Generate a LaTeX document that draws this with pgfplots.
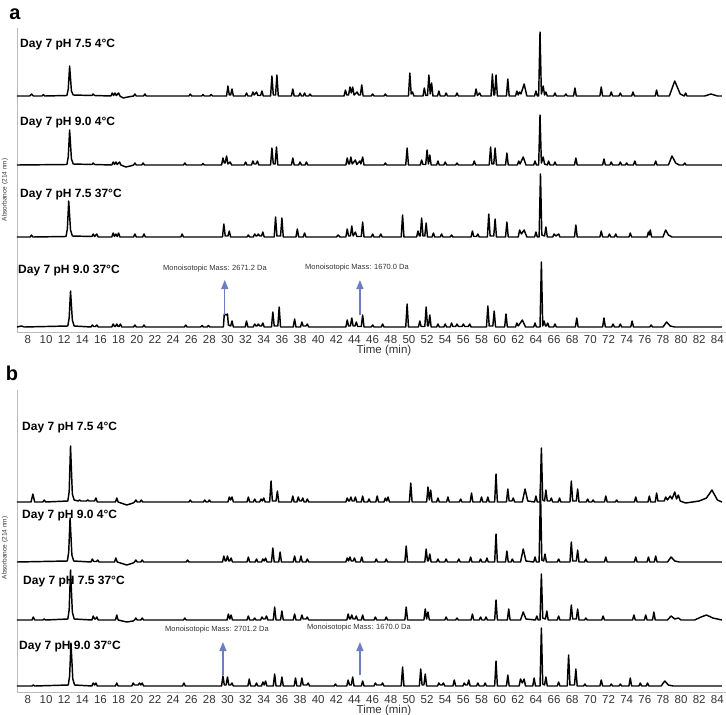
\documentclass[border=0pt]{standalone}
\usepackage{fontspec}
\setmainfont{Liberation Sans}
\usepackage{pgfplots}
\pgfplotsset{compat=1.18}
\usetikzlibrary{arrows.meta}
\definecolor{axgray}{HTML}{BBBBBB}
\definecolor{arrowblue}{HTML}{6E7FC0}
\definecolor{txtgray}{HTML}{333333}
\pgfplotsset{chrom/.style={
  scale only axis, width=709pt, xmin=6.8, xmax=84.95, ymin=0,
  axis x line*=bottom, axis y line*=left,
  axis line style={axgray, line width=0.8pt, -},
  xtick={8,10,...,84}, ytick=\empty, major tick length=0pt,
  tick label style={font=\fontsize{11.5}{11.5}\selectfont, text=txtgray},
  /pgf/number format/assume math mode=true,
  clip=false,
  every axis plot/.append style={black, line width=1.45pt, line join=round, no marks},
}}
\begin{document}
\begin{tikzpicture}
\useasboundingbox (0,0) rectangle (726pt,-715pt);
% ---------------- panel a ----------------
\begin{axis}[chrom, at={(17pt,-332pt)}, anchor=south west, height=304pt, ymax=304]
% Day 7 pH 7.5 4C
\addplot[y filter/.expression={y+236}] coordinates {(6.8,0) (8.2,0) (8.4,2) (8.6,0) (9.55,0) (9.7,1.5) (9.85,0) (12.3,0.5) (12.45,7) (12.6,30) (12.8,5) (13.0,1) (15.05,0.5) (15.2,2) (15.35,0.5) (17.15,0) (17.3,3) (17.45,0.5) (17.6,3) (17.75,0.5) (18.0,3) (18.15,0) (18.5,-2) (19.0,-1) (19.65,0) (19.8,2) (19.95,0) (20.75,0) (20.9,2) (21.05,0) (25.75,0) (25.9,2) (26.05,0) (27.15,0) (27.3,1.5) (27.45,0) (28.05,0) (28.2,1.5) (28.35,0) (29.9,0) (30.05,10) (30.2,1) (30.35,1) (30.5,7) (30.65,0) (31.95,0) (32.1,3) (32.25,0) (32.65,0) (32.8,4) (32.95,1) (33.2,4) (33.35,0.5) (33.65,0.5) (33.8,5) (33.95,0) (34.75,0) (34.9,20) (35.05,1) (35.3,1) (35.45,21) (35.6,0) (37.05,0) (37.2,7) (37.35,0) (37.85,0) (38,3) (38.15,0) (38.35,0) (38.5,3) (38.65,0) (38.95,0) (39.1,2) (39.25,0) (42.85,0) (43.0,6) (43.15,1) (43.35,1) (43.5,9) (43.65,3) (43.8,9) (43.95,1) (44.3,4) (44.45,1) (44.65,1) (44.8,11) (44.95,0) (45.85,0) (46,2) (46.15,0) (47.25,0) (47.4,2) (47.55,0) (49.95,0) (50.1,23) (50.25,2) (50.4,4) (50.55,0) (51.55,0) (51.7,8) (51.85,0.5) (52.05,0.5) (52.2,21) (52.35,2) (52.5,13) (52.65,0) (53.15,0) (53.3,5) (53.45,0) (53.95,0) (54.1,3) (54.25,0) (55.15,0) (55.3,3) (55.45,0) (57.25,0) (57.4,7) (57.55,0.5) (57.8,3) (57.95,0) (59.05,0) (59.2,22) (59.35,1) (59.45,1) (59.6,21) (59.75,0) (60.75,0) (60.9,17) (61.05,0) (61.75,0) (61.9,5) (62.05,1) (62.2,4) (62.35,2) (62.7,12) (63.0,0) (63.85,0) (64.0,5) (64.15,0) (64.3,0) (64.45,64) (64.6,2) (64.8,10) (64.95,1) (65.1,4) (65.25,0) (65.95,0) (66.1,3) (66.25,0) (67.15,0) (67.3,2) (67.45,0) (68.15,0) (68.3,8) (68.45,0) (71.05,0) (71.2,9) (71.35,0) (72.15,0) (72.3,4) (72.45,0) (73.15,0) (73.3,3) (73.45,0) (74.55,0) (74.7,4) (74.85,0) (77.15,0) (77.3,6) (77.45,0) (78.7,0) (79.3,15) (79.9,2) (80.35,0) (80.5,3) (80.65,0) (82.6,0) (83.3,2) (84.0,0) (84.5,0)};
% Day 7 pH 9.0 4C
\addplot[y filter/.expression={y+167}] coordinates {(6.8,0) (12.3,0.5) (12.45,8) (12.6,35) (12.8,6) (13.0,1) (15.05,0.5) (15.2,2) (15.35,0.5) (17.25,0) (17.4,3) (17.55,0.5) (17.7,3) (17.85,0.5) (18.1,3) (18.25,0) (18.8,-2) (19.3,-1) (19.65,0) (19.8,2) (19.95,0) (20.55,0) (20.7,2) (20.85,0) (25.15,0) (25.3,2) (25.45,0) (27.15,0) (27.3,1.5) (27.45,0) (29.35,0) (29.5,7) (29.65,2) (29.75,2) (29.9,9) (30.05,1) (30.3,3) (30.45,0) (31.85,0) (32.0,3) (32.15,0) (32.65,0) (32.8,4) (32.95,1) (33.15,1) (33.3,4) (33.45,0) (34.75,0) (34.9,17) (35.05,1) (35.25,1) (35.4,18) (35.55,0) (37.05,0) (37.2,7) (37.35,0) (37.85,0) (38.0,3) (38.15,0) (38.55,0) (38.7,3) (38.85,0) (43.05,0) (43.2,7) (43.35,1) (43.45,1) (43.6,8) (43.75,1) (44.1,5) (44.25,0.5) (44.6,4) (44.7,1) (44.9,8) (45.05,0) (47.25,0) (47.4,2) (47.55,0) (49.65,0) (49.8,17) (49.95,0) (51.25,0) (51.4,5) (51.55,0.5) (51.85,0.5) (52.0,15) (52.15,1) (52.3,10) (52.45,0) (53.05,0) (53.2,4) (53.35,0) (53.85,0) (54.0,3) (54.15,0) (55.15,0) (55.3,2) (55.45,0) (57.05,0) (57.2,4) (57.35,0) (58.85,0) (59.0,18) (59.15,1) (59.35,1) (59.5,17) (59.65,0) (60.65,0) (60.8,12) (60.95,0) (61.95,0) (62.1,4) (62.25,1) (62.6,8) (62.9,0) (63.75,0) (63.9,4) (64.05,0) (64.3,0) (64.45,50) (64.6,2) (64.8,8) (64.95,1) (65.25,0) (65.4,4) (65.55,0) (65.95,0) (66.1,3) (66.25,0) (68.25,0) (68.4,7) (68.55,0) (71.35,0) (71.5,6) (71.65,0) (72.15,0) (72.3,3) (72.45,0) (73.15,0) (73.3,3) (73.45,0) (73.85,0) (74.0,2) (74.15,0) (74.75,0) (74.9,4) (75.05,0) (77.05,0) (77.2,4) (77.35,0) (78.6,0) (79.0,9) (79.4,2) (79.8,0) (80.25,0) (80.4,2) (80.55,0) (84.5,0)};
% Day 7 pH 7.5 37C
\addplot[y filter/.expression={y+95}] coordinates {(6.8,0) (8.25,0) (8.4,2) (8.55,0) (12.2,0.5) (12.35,8) (12.5,36) (12.7,7) (12.9,1) (15.05,0.5) (15.2,3) (15.35,0.5) (15.6,3) (15.75,0) (17.25,0) (17.4,4) (17.55,0.5) (17.7,3) (17.85,0.5) (18.0,4) (18.15,0) (19.65,0) (19.8,3) (19.95,0) (20.65,0) (20.8,3) (20.95,0) (24.85,0) (25.0,3) (25.15,0) (29.45,0) (29.6,13) (29.75,1) (30.05,1) (30.2,6) (30.35,0) (32.15,0) (32.3,2) (32.45,0) (32.85,0) (33.0,3) (33.15,1) (33.25,1) (33.4,3) (33.55,1) (33.75,1) (33.9,5) (34.05,0) (35.15,0) (35.3,20) (35.45,1) (35.85,1) (36.0,19) (36.15,0) (37.55,0) (37.7,8) (37.85,0) (38.35,0) (38.5,4) (38.65,0) (42.0,0) (42.2,2) (42.4,0) (43.05,0) (43.2,8) (43.35,1) (43.55,1) (43.7,11) (43.85,1) (44.1,5) (44.25,0.5) (44.75,0.5) (44.9,15) (45.05,0) (45.85,0) (46.0,3) (46.15,0) (46.75,0) (46.9,3) (47.05,0) (49.15,0) (49.3,22) (49.45,0) (50.85,0) (51.0,6) (51.15,1) (51.25,1) (51.4,19) (51.55,1) (51.75,1) (51.9,14) (52.05,0) (52.55,0) (52.7,4) (52.85,0) (53.45,0) (53.6,3) (53.75,0) (54.55,0) (54.7,2) (54.85,0) (56.85,0) (57.0,6) (57.15,0.5) (57.45,0.5) (57.6,3) (57.75,0) (58.65,0) (58.8,23) (58.95,1) (59.35,1) (59.5,18) (59.65,0) (60.65,0) (60.8,15) (60.95,0) (62.05,0) (62.2,7) (62.4,3) (62.7,7) (63.0,0) (63.85,0) (64.0,5) (64.15,0) (64.35,0) (64.5,63) (64.65,2) (64.95,1) (65.1,10) (65.25,0) (65.85,0) (66.0,3) (66.2,1) (66.5,3) (66.65,0) (68.25,0) (68.4,12) (68.55,0) (71.05,0) (71.2,6) (71.35,0) (71.95,0) (72.1,3) (72.25,0) (72.65,0) (72.8,3) (72.95,0) (74.25,0) (74.4,4) (74.55,0) (76.25,0) (76.4,5) (76.5,2) (76.6,7) (76.75,0) (78.0,0) (78.3,7) (78.6,2) (79.0,0) (84.5,0)};
% Day 7 pH 9.0 37C
\addplot[y filter/.expression={y+5}] coordinates {(6.8,0) (7.3,1) (7.6,0) (12.4,1) (12.55,9) (12.7,36) (12.9,7) (13.1,1) (14.95,0) (15.1,2) (15.25,0.5) (15.45,0.5) (15.6,2) (15.75,0) (17.25,0) (17.4,3) (17.55,0.5) (17.65,0.5) (17.8,3) (17.95,0.5) (18.05,0.5) (18.2,3) (18.35,0) (19.65,0) (19.8,2) (19.95,0) (20.65,0) (20.8,2) (20.95,0) (25.25,0) (25.4,2) (25.55,0) (27.05,0) (27.2,1.5) (27.35,0) (27.75,0) (27.9,1.5) (28.05,0) (29.55,0) (29.65,13) (29.85,12) (30.0,13) (30.1,2) (30.35,1) (30.5,6) (30.65,0) (31.95,0) (32.1,6) (32.25,0) (32.85,0) (33.0,3) (33.15,1) (33.25,1) (33.4,3) (33.55,1) (33.75,1) (33.9,4) (34.05,0) (34.85,0) (35.0,15) (35.15,1) (35.55,1) (35.7,20) (35.85,0) (37.25,0) (37.4,8) (37.55,0) (38.05,0) (38.2,5) (38.35,1) (38.65,1) (38.8,3) (38.95,0) (43.05,0) (43.2,7) (43.35,1) (43.55,1) (43.7,9) (43.85,1) (44.05,1) (44.2,5) (44.35,0.5) (44.75,0.5) (44.9,12) (45.05,0) (45.85,0) (46.0,2) (46.15,0) (46.95,0) (47.1,3) (47.25,0) (49.65,0) (49.8,23) (49.95,0) (51.05,0) (51.2,6) (51.35,0.5) (51.75,0.5) (51.9,20) (52.05,1) (52.15,1) (52.3,12) (52.45,0) (53.05,0) (53.2,3) (53.35,0) (53.85,0) (54.0,3) (54.15,0) (54.55,0) (54.7,4) (54.85,0.5) (55.15,0.5) (55.3,3) (55.45,0.5) (55.85,0.5) (56.0,3) (56.15,0.5) (56.55,0.5) (56.7,3) (56.85,0) (58.55,0) (58.7,21) (58.85,1) (59.25,1) (59.4,16) (59.55,0) (60.55,0) (60.7,13) (60.85,0) (61.75,0) (61.9,4) (62.05,1) (62.5,7) (62.85,0) (63.75,0) (63.9,4) (64.05,0) (64.45,0) (64.6,65) (64.75,1) (64.9,6) (65.05,1) (65.15,1) (65.3,4) (65.45,0) (65.95,0) (66.1,3) (66.25,0) (68.35,0) (68.5,9) (68.65,0) (71.35,0) (71.5,9) (71.65,0) (72.35,0) (72.5,3) (72.65,0) (73.15,0) (73.3,3) (73.45,0) (74.45,0) (74.6,6) (74.75,0) (76.55,0) (76.7,2) (76.85,0) (78.0,0) (78.4,5) (78.8,1) (79.3,0) (84.5,0)};
\draw[arrowblue, line width=1.3pt, -{Triangle[width=7pt,length=9pt]}] (axis cs:29.7,17) -- (axis cs:29.7,52);
\draw[arrowblue, line width=1.3pt, -{Triangle[width=7pt,length=9pt]}] (axis cs:44.6,17) -- (axis cs:44.6,52);
\end{axis}
\node[font=\bfseries\fontsize{20}{20}\selectfont] at (15pt,-14pt) {a};
\node[anchor=west, inner sep=0pt, font=\bfseries\fontsize{12}{12}\selectfont] at (20pt,-45pt) {Day 7 pH 7.5 4°C};
\node[anchor=west, inner sep=0pt, font=\bfseries\fontsize{12}{12}\selectfont] at (20pt,-123pt) {Day 7 pH 9.0 4°C};
\node[anchor=west, inner sep=0pt, font=\bfseries\fontsize{12}{12}\selectfont] at (20pt,-195pt) {Day 7 pH 7.5 37°C};
\node[anchor=west, inner sep=0pt, font=\bfseries\fontsize{12}{12}\selectfont] at (18pt,-271pt) {Day 7 pH 9.0 37°C};
\node[font=\fontsize{7.5}{7.5}\selectfont, text=txtgray] at (215pt,-269pt) {Monoisotopic Mass: 2671.2 Da};
\node[font=\fontsize{7.5}{7.5}\selectfont, text=txtgray] at (357pt,-268pt) {Monoisotopic Mass: 1670.0 Da};
\node[font=\fontsize{11.5}{11.5}\selectfont, text=txtgray] at (384pt,-351pt) {Time (min)};
\node[rotate=90, font=\fontsize{6.5}{6.5}\selectfont, text=txtgray] at (5pt,-190pt) {Absorbance (214 nm)};
% ---------------- panel b ----------------
\begin{axis}[chrom, at={(17pt,-692pt)}, anchor=south west, height=302pt, ymax=302]
% Day 7 pH 7.5 4C
\addplot[y filter/.expression={y+190}] coordinates {(6.8,0) (8.35,0) (8.55,8) (8.75,0) (9.65,0) (9.8,2) (9.95,0) (12.4,1) (12.55,10) (12.7,56) (12.9,8) (13.1,2) (13.55,1) (13.7,2) (13.85,1) (14.45,1) (14.6,2) (14.75,1) (15.35,1) (15.5,4) (15.65,0) (17.65,0) (17.8,4) (17.95,0) (18.9,-3) (19.6,-1) (19.75,0) (19.9,2) (20.05,0) (20.35,0) (20.5,2) (20.65,0) (25.75,0) (25.9,2) (26.05,0) (27.35,0) (27.5,2) (27.65,0) (27.85,0) (28.0,2) (28.15,0) (30.05,0) (30.2,5) (30.35,2) (30.5,5) (30.65,0) (32.15,0) (32.3,5) (32.45,0) (32.85,0) (33.0,3) (33.15,0) (33.55,0) (33.7,3) (33.85,1) (34.0,4) (34.15,0) (34.65,0) (34.8,21) (34.95,1) (35.35,1) (35.5,11) (35.65,0) (37.05,0) (37.2,6) (37.35,0) (37.65,0) (37.8,5) (37.95,1) (38.15,1) (38.3,4) (38.45,0) (38.65,0) (38.8,3) (38.95,0) (43.05,0) (43.2,4) (43.35,1) (43.45,1) (43.6,5) (43.75,1) (43.95,1) (44.1,5) (44.25,0) (44.75,0) (44.9,6) (45.05,0) (45.45,0) (45.6,3) (45.75,0) (46.35,0) (46.5,6) (46.65,0) (47.25,0) (47.4,4) (47.55,1) (47.7,5) (47.85,0) (50.05,0) (50.2,19) (50.35,0) (51.95,0) (52.1,15) (52.25,2) (52.4,12) (52.55,0) (53.05,0) (53.2,4) (53.35,0) (54.15,0) (54.3,5) (54.45,0) (55.55,0) (55.7,3) (55.85,0) (56.75,0) (56.9,9) (57.05,0) (57.85,0) (58.0,5) (58.15,0) (58.55,0) (58.7,5) (58.85,0) (59.45,0) (59.6,28) (59.75,0) (60.75,0) (60.9,13) (61.05,1) (61.35,1) (61.5,4) (61.65,0) (62.5,0) (62.8,13) (63.1,1) (63.85,0) (64.0,6) (64.15,0) (64.45,0) (64.6,54) (64.75,2) (64.95,1) (65.1,12) (65.25,1) (65.55,1) (65.7,4) (65.85,0) (66.45,0) (66.6,4) (66.75,0) (67.75,0) (67.9,21) (68.05,1) (68.45,1) (68.6,13) (68.75,0) (69.55,0) (69.7,3) (69.85,0) (70.15,0) (70.3,2) (70.45,0) (71.55,0) (71.7,6) (71.85,0) (72.75,0) (72.9,2) (73.05,0) (74.85,0) (75.0,5) (75.15,0) (76.35,0) (76.5,6) (76.65,0) (77.15,0) (77.3,9) (77.45,1) (78.15,1) (78.3,5) (78.5,2) (78.8,6) (79.0,3) (79.3,10) (79.5,3) (79.7,7) (79.9,1) (80.5,-1) (82.0,1) (82.8,4) (83.4,12) (84.0,2) (84.5,0)};
% Day 7 pH 9.0 4C
\addplot[y filter/.expression={y+130}] coordinates {(6.8,0) (12.35,1) (12.5,10) (12.65,44) (12.85,7) (13.05,1) (14.95,0) (15.1,3) (15.25,0.5) (15.55,0.5) (15.7,2) (15.85,0) (17.55,0) (17.7,4) (17.85,0) (18.9,-3) (19.6,-1) (19.75,0) (19.9,2) (20.05,0) (20.45,0) (20.6,2) (20.75,0) (25.45,0) (25.6,2) (25.75,0) (29.45,0) (29.6,6) (29.75,1) (29.85,1) (30.0,6) (30.15,1) (30.25,1) (30.4,4) (30.55,0) (32.15,0) (32.3,5) (32.45,0) (33.05,0) (33.2,3) (33.35,0) (33.75,0) (33.9,3) (34.05,1) (34.2,4) (34.35,0) (34.85,0) (35.0,14) (35.15,0) (35.65,0) (35.8,10) (35.95,0) (37.25,0) (37.4,6) (37.55,0) (37.95,0) (38.1,6) (38.25,0) (38.65,0) (38.8,3) (38.95,0) (43.05,0) (43.2,4) (43.35,1) (43.5,5) (43.65,1) (43.85,1) (44.0,4) (44.15,0) (44.65,0) (44.8,5) (44.95,0) (46.25,0) (46.4,3) (46.55,0) (47.35,0) (47.5,3) (47.65,0) (49.55,0) (49.7,16) (49.85,0) (51.75,0) (51.9,13) (52.05,1) (52.15,1) (52.3,8) (52.45,0) (53.05,0) (53.2,3) (53.35,0) (53.95,0) (54.1,3) (54.25,0) (55.35,0) (55.5,3) (55.65,0) (56.65,0) (56.8,5) (56.95,0) (57.75,0) (57.9,3) (58.05,0) (58.45,0) (58.6,4) (58.75,0) (59.45,0) (59.6,28) (59.75,0) (60.65,0) (60.8,11) (60.95,0) (61.25,0) (61.4,3) (61.55,0) (62.3,0) (62.6,13) (62.9,1) (63.75,0) (63.9,5) (64.05,0) (64.35,0) (64.5,73) (64.65,2) (64.85,1) (65.0,8) (65.15,0) (66.35,0) (66.5,3) (66.65,0) (67.75,0) (67.9,20) (68.05,1) (68.45,1) (68.6,12) (68.75,0) (69.35,0) (69.5,3) (69.65,0) (71.55,0) (71.7,5) (71.85,0) (74.85,0) (75.0,5) (75.15,0) (76.25,0) (76.4,5) (76.55,0) (77.05,0) (77.2,6) (77.35,0) (78.5,0) (78.9,5) (79.3,1) (79.8,0) (84.5,0)};
% Day 7 pH 7.5 37C
\addplot[y filter/.expression={y+72}] coordinates {(6.8,0) (8.45,0) (8.6,3) (8.75,0) (9.65,0) (9.8,1) (9.95,0) (12.4,1) (12.55,10) (12.7,50) (12.9,8) (13.1,1) (15.05,0) (15.2,4) (15.35,1) (15.45,1) (15.6,3) (15.75,0) (17.65,0) (17.8,5) (17.95,0) (18.9,-2) (19.6,-1) (19.75,0) (19.9,2) (20.05,0) (20.45,0) (20.6,2) (20.75,0) (25.15,0) (25.3,2) (25.45,0) (29.95,0) (30.1,6) (30.25,1) (30.4,5) (30.55,0) (32.15,0) (32.3,4) (32.45,0) (32.85,0) (33.0,2) (33.15,0) (33.65,0) (33.8,3) (33.95,1) (34.15,1) (34.3,4) (34.45,0) (35.05,0) (35.2,13) (35.35,0) (35.85,0) (36.0,9) (36.15,0) (37.25,0) (37.4,6) (37.55,0) (38.05,0) (38.2,5) (38.35,1) (38.65,1) (38.8,3) (38.95,0) (43.15,0) (43.3,6) (43.45,1) (43.55,1) (43.7,5) (43.85,1) (44.05,1) (44.2,4) (44.35,0) (44.75,0) (44.9,5) (45.05,0) (46.15,0) (46.3,3) (46.45,0) (47.35,0) (47.5,3) (47.65,0) (49.55,0) (49.7,13) (49.85,0) (51.65,0) (51.8,11) (51.95,1) (52.1,8) (52.25,0) (53.95,0) (54.1,3) (54.25,0) (55.15,0) (55.3,2) (55.45,0) (56.85,0) (57.0,6) (57.15,0) (57.75,0) (57.9,3) (58.05,0) (58.35,0) (58.5,3) (58.65,0) (59.45,0) (59.6,20) (59.75,0) (60.85,0) (61.0,11) (61.15,0) (62.3,0) (62.6,8) (62.9,1) (63.95,0) (64.1,4) (64.25,0) (64.45,0) (64.6,46) (64.75,2) (65.05,1) (65.2,9) (65.35,0) (66.35,0) (66.5,4) (66.65,0) (67.75,0) (67.9,15) (68.05,1) (68.45,1) (68.6,11) (68.75,0) (69.35,0) (69.5,2) (69.65,0) (71.25,0) (71.4,4) (71.55,0) (74.65,0) (74.8,5) (74.95,0) (75.95,0) (76.1,5) (76.25,0) (76.85,0) (77.0,8) (77.15,0) (78.5,0) (78.9,4) (79.3,1) (79.7,2) (80.0,0) (81.5,0) (82.2,3) (82.8,5) (83.5,2) (84.5,0)};
% Day 7 pH 9.0 37C
\addplot[y filter/.expression={y+6}] coordinates {(6.8,0) (8.45,0) (8.6,1) (8.75,0) (12.45,1) (12.6,10) (12.75,43) (12.95,7) (13.15,1) (15.05,0) (15.2,3) (15.35,1) (15.5,3) (15.65,0) (17.65,0) (17.8,3) (17.95,0) (19.45,0) (19.6,3) (19.75,1) (20.15,1) (20.3,3) (20.45,1) (20.6,3) (20.75,0) (25.05,0) (25.2,3) (25.35,0) (29.35,0) (29.5,10) (29.65,1) (29.85,1) (30.0,9) (30.15,1) (30.35,1) (30.5,3) (30.65,0) (32.25,0) (32.4,7) (32.55,0) (33.05,0) (33.2,3) (33.35,0) (33.75,0) (33.9,4) (34.05,1) (34.2,5) (34.35,0) (35.05,0) (35.2,12) (35.35,0) (35.85,0) (36.0,9) (36.15,0) (37.35,0) (37.5,8) (37.65,0) (38.05,0) (38.2,8) (38.35,1) (38.75,1) (38.9,3) (39.05,0) (41.75,0) (41.9,2) (42.05,0) (43.15,0) (43.3,6) (43.45,1) (43.65,1) (43.8,9) (43.95,0) (44.75,0) (44.9,5) (45.05,0) (46.15,0) (46.3,3) (46.45,1) (46.95,1) (47.1,3) (47.25,0) (49.15,0) (49.3,19) (49.45,0) (51.15,0) (51.3,17) (51.45,1) (51.65,1) (51.8,12) (51.95,0) (53.15,0) (53.3,3) (53.45,1) (53.65,1) (53.8,3) (53.95,0) (54.85,0) (55.0,6) (55.15,0) (55.95,0) (56.1,3) (56.25,1) (56.45,1) (56.6,6) (56.75,0) (57.45,0) (57.6,3) (57.75,0) (58.25,0) (58.4,3) (58.55,0) (59.45,0) (59.6,25) (59.75,0) (60.75,0) (60.9,11) (61.05,0) (62.15,0) (62.3,7) (62.5,3) (62.7,7) (62.85,0) (63.65,0) (63.8,8) (63.95,0) (64.45,0) (64.6,58) (64.75,2) (64.95,1) (65.1,9) (65.25,0) (66.35,0) (66.5,4) (66.65,0) (67.45,0) (67.6,31) (67.75,1) (68.25,1) (68.4,17) (68.55,0) (69.25,0) (69.4,2) (69.55,0) (71.05,0) (71.2,6) (71.35,0) (72.15,0) (72.3,2) (72.45,0) (73.15,0) (73.3,2) (73.45,0) (74.25,0) (74.4,8) (74.55,0) (75.35,0) (75.5,3) (75.65,0) (76.15,0) (76.3,3) (76.45,0) (77.8,0) (78.2,5) (78.6,1) (79.1,0) (84.5,0)};
\draw[arrowblue, line width=1.3pt, -{Triangle[width=7pt,length=9pt]}] (axis cs:29.5,17) -- (axis cs:29.5,50);
\draw[arrowblue, line width=1.3pt, -{Triangle[width=7pt,length=9pt]}] (axis cs:44.6,17) -- (axis cs:44.6,50);
\end{axis}
\node[font=\bfseries\fontsize{20}{20}\selectfont] at (12pt,-373pt) {b};
\node[anchor=west, inner sep=0pt, font=\bfseries\fontsize{12}{12}\selectfont] at (22pt,-428pt) {Day 7 pH 7.5 4°C};
\node[anchor=west, inner sep=0pt, font=\bfseries\fontsize{12}{12}\selectfont] at (22pt,-516pt) {Day 7 pH 9.0 4°C};
\node[anchor=west, inner sep=0pt, font=\bfseries\fontsize{12}{12}\selectfont] at (23pt,-582pt) {Day 7 pH 7.5 37°C};
\node[anchor=west, inner sep=0pt, font=\bfseries\fontsize{12}{12}\selectfont] at (19pt,-647pt) {Day 7 pH 9.0 37°C};
\node[font=\fontsize{7.5}{7.5}\selectfont, text=txtgray] at (217pt,-630pt) {Monoisotopic Mass: 2701.2 Da};
\node[font=\fontsize{7.5}{7.5}\selectfont, text=txtgray] at (359pt,-628pt) {Monoisotopic Mass: 1670.0 Da};
\node[font=\fontsize{11.5}{11.5}\selectfont, text=txtgray] at (384pt,-711pt) {Time (min)};
\node[rotate=90, font=\fontsize{6.5}{6.5}\selectfont, text=txtgray] at (5pt,-548pt) {Absorbance (214 nm)};
\end{tikzpicture}
\end{document}
